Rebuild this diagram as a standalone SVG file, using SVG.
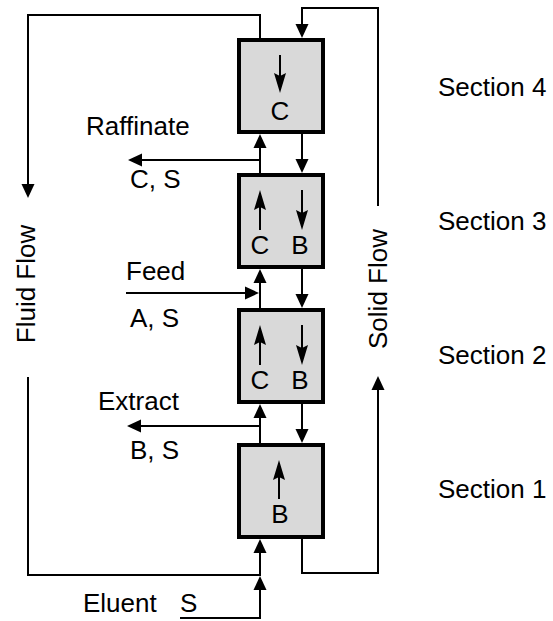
<svg xmlns="http://www.w3.org/2000/svg" width="553" height="621" viewBox="0 0 553 621">
<style>
text{font-family:"Liberation Sans",Arial,sans-serif;font-size:26px;fill:#000}
.c{text-anchor:middle}
.box{fill:#d9d9d9;stroke:#000;stroke-width:4}
.ln{fill:none;stroke:#000;stroke-width:2}
.ar{marker-end:url(#ah)}
.ia{fill:none;stroke:#000;stroke-width:2;marker-end:url(#st)}
</style>
<defs>
<marker id="ah" markerUnits="userSpaceOnUse" markerWidth="14" markerHeight="13" refX="10" refY="6.5" orient="auto" overflow="visible">
<path d="M0,0 L14,6.5 L0,13 z" fill="#000"/>
</marker>
<marker id="st" markerUnits="userSpaceOnUse" markerWidth="20" markerHeight="12" refX="17" refY="6" orient="auto" overflow="visible">
<path d="M0,0 L20,6 L0,12 L3,6 z" fill="#000"/>
</marker>
</defs>
<g id="connectors">
<path class="ln ar" d="M180 618 H260 V580"/>
<path class="ln ar" d="M28 377 V575 H260 V543"/>
<path class="ln ar" d="M260 443 V408"/>
<path class="ln ar" d="M260 426 H131"/>
<path class="ln ar" d="M260 308 V273"/>
<path class="ln ar" d="M126 293 H255"/>
<path class="ln ar" d="M260 173 V138"/>
<path class="ln ar" d="M260 160 H132"/>
<path class="ln ar" d="M260 38 V15 H28 V194"/>
<path class="ln ar" d="M302 539 V573 H378 V380"/>
<path class="ln ar" d="M378 206 V8 H302 V34"/>
<path class="ln ar" d="M302 134 V169"/>
<path class="ln ar" d="M302 269 V304"/>
<path class="ln ar" d="M302 404 V439"/>
</g>
<g id="section4">
<rect class="box" x="239" y="40" width="84" height="92"/>
<path class="ia" d="M280 55 V90"/>
<text class="c" x="280" y="120">C</text>
</g>
<g id="section3">
<rect class="box" x="239" y="175" width="84" height="92"/>
<path class="ia" d="M260 230 V193"/>
<path class="ia" d="M302 190 V227"/>
<text class="c" x="260" y="254">C</text>
<text class="c" x="300" y="254">B</text>
</g>
<g id="section2">
<rect class="box" x="239" y="310" width="84" height="92"/>
<path class="ia" d="M260 365 V328"/>
<path class="ia" d="M302 325 V362"/>
<text class="c" x="260" y="389">C</text>
<text class="c" x="300" y="389">B</text>
</g>
<g id="section1">
<rect class="box" x="239" y="445" width="84" height="92"/>
<path class="ia" d="M279 499 V463"/>
<text class="c" x="280" y="523">B</text>
</g>
<g id="labels">
<text x="86" y="135">Raffinate</text>
<text x="130" y="188">C, S</text>
<text x="126" y="280">Feed</text>
<text x="130" y="327">A, S</text>
<text x="98" y="410">Extract</text>
<text x="130" y="459">B, S</text>
<text x="83" y="612">Eluent</text>
<text x="180" y="612">S</text>
<text class="c" transform="translate(35,284) rotate(-90)">Fluid Flow</text>
<text class="c" transform="translate(387,289) rotate(-90)">Solid Flow</text>
<text x="438" y="96">Section 4</text>
<text x="438" y="230">Section 3</text>
<text x="438" y="364">Section 2</text>
<text x="438" y="498">Section 1</text>
</g>
</svg>
